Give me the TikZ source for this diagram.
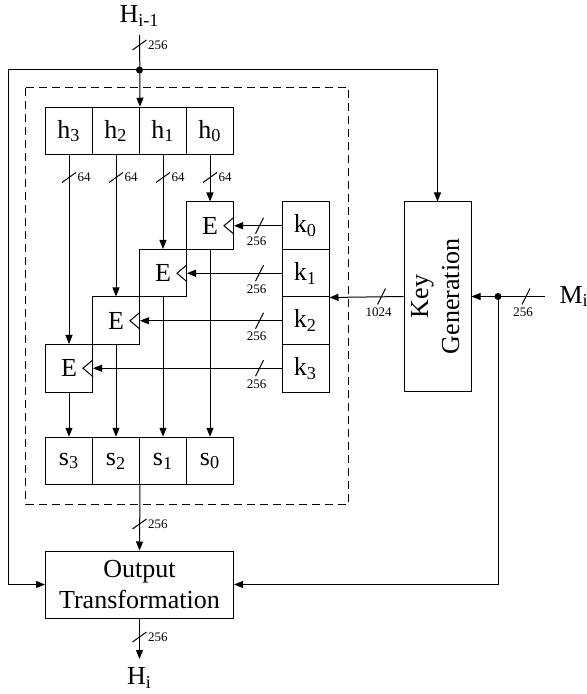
\documentclass[tikz,border=0pt]{standalone}
\usepackage{fontspec}
\setmainfont{Liberation Serif}
\usepackage{graphicx}
\usetikzlibrary{arrows.meta}
\newcommand{\vbus}[3]{\draw (#1-7,#2+5) -- (#1+7,#2-5); \node[bw, anchor=west] at (#1+7,#2) {#3};}
\newcommand{\hbus}[3]{\draw (#1-4,#2+8) -- (#1+4,#2-8); \node[bw] at (#1-3,#2+16) {#3};}
\begin{document}
\begin{tikzpicture}[x=0.5pt, y=-0.5pt, line width=0.5pt, font=\fontsize{13}{15.5}\selectfont,
  cell/.style={draw, minimum width=23.5pt, minimum height=23.75pt, inner sep=0pt},
  bigbox/.style={draw, align=center, inner sep=0pt},
  arr/.style={-{Triangle[length=4.5pt, width=3.5pt]}},
  bw/.style={font=\fontsize{6.5}{7}\selectfont, inner sep=0.5pt}]
  \useasboundingbox (0,0) rectangle (586,694);
  \node[anchor=south, inner sep=4pt] (hin)  at (139.5,35) {H\textsubscript{i-1}};
  \node[cell] (h3) at (69,131) {h\textsubscript{3}};
  \node[cell] (h2) at (116,131) {h\textsubscript{2}};
  \node[cell] (h1) at (163,131) {h\textsubscript{1}};
  \node[cell] (h0) at (210,131) {h\textsubscript{0}};
  \node[cell] (E0) at (210,225.75) {E};
  \node[cell] (E1) at (163,273.25) {E};
  \node[cell] (E2) at (116,320.75) {E};
  \node[cell] (E3) at (69,368.25) {E};
  \node[cell] (k0) at (305.5,225.75) {k\textsubscript{0}};
  \node[cell] (k1) at (305.5,273.25) {k\textsubscript{1}};
  \node[cell] (k2) at (305.5,320.75) {k\textsubscript{2}};
  \node[cell] (k3) at (305.5,368.25) {k\textsubscript{3}};
  \node[cell] (s3) at (69,461) {s\textsubscript{3}};
  \node[cell] (s2) at (116,461) {s\textsubscript{2}};
  \node[cell] (s1) at (163,461) {s\textsubscript{1}};
  \node[cell] (s0) at (210,461) {s\textsubscript{0}};
  \node[bigbox, minimum width=94pt, minimum height=33.5pt] (out) at (139.5,584.5) {Output\\Transformation};
  \node[bigbox, minimum width=33.5pt, minimum height=94.5pt] (kg) at (437.5,296.5)
    {\rotatebox{90}{\begin{tabular}{@{}c@{}}Key\\Generation\end{tabular}}};
  \node[anchor=west, inner sep=7pt] (mi) at (545,296.5) {M\textsubscript{i}};
  \node[anchor=north, inner sep=4pt] (hout) at (139.5,659) {H\textsubscript{i}};
  \draw[dashed, dash pattern=on 4pt off 2.5pt] (25.5,88) rectangle (348,504);
  \coordinate (tdot) at (139.5,70);
  \coordinate (lft) at (8,70);
  \coordinate (mdot) at (498,296.5);
  \foreach \i in {0,...,3} {
    \draw ([yshift=4.25pt]E\i.east) -- ++(-5pt,-4.25pt) -- ++(5pt,-4.25pt);
    \draw[arr] (h\i) -- (E\i);
    \draw[arr] (E\i) -- (s\i);
    \draw[arr] (k\i) -- (E\i.east);
  }
  \draw[arr] (hin) -- (h2.north east);
  \draw[arr] (tdot) -| (kg.north);
  \draw[arr] (tdot) -- (lft) |- (out.west);
  \draw[arr] (kg.west) -- (k1.south east);
  \draw[arr] (mi.west) -- (kg.east);
  \draw[arr] (mdot) |- (out.east);
  \draw[arr] (s2.south east) -- (out.north);
  \draw[arr] (out) -- (hout);
  \fill (tdot) circle (1.75pt);
  \fill (mdot) circle (1.75pt);
  \vbus{139.5}{45}{256}
  \vbus{69}{177.5}{64}
  \vbus{116}{177.5}{64}
  \vbus{163}{177.5}{64}
  \vbus{210}{177.5}{64}
  \hbus{259.5}{225.75}{256}
  \hbus{259.5}{273.25}{256}
  \hbus{259.5}{320.75}{256}
  \hbus{259.5}{368.25}{256}
  \hbus{381.5}{296.5}{1024}
  \hbus{526}{296.5}{256}
  \vbus{139.5}{524}{256}
  \vbus{139.5}{637}{256}
\end{tikzpicture}
\end{document}
